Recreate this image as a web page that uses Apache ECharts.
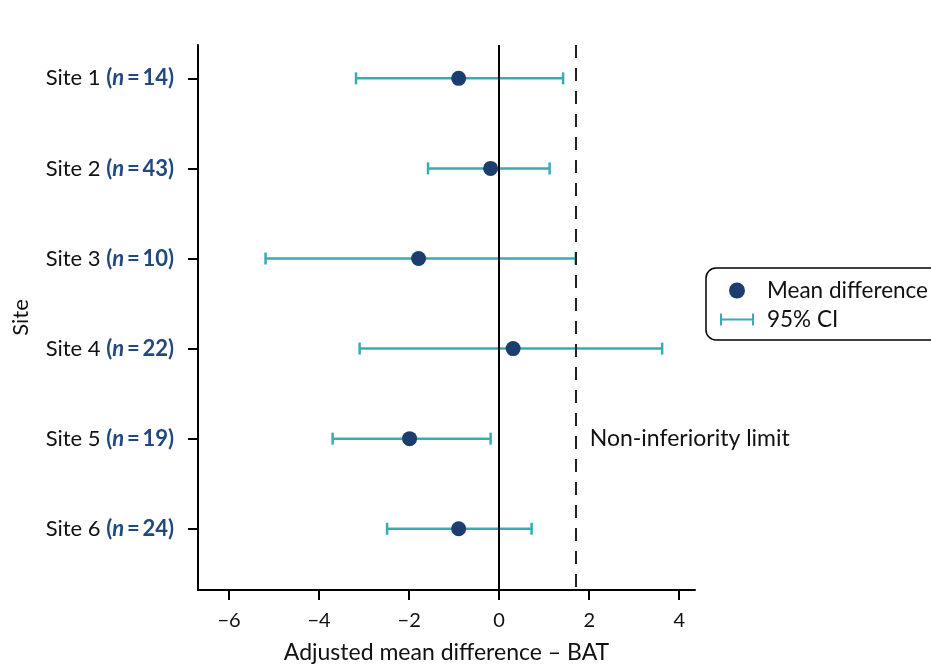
<!DOCTYPE html>
<html><head><meta charset="utf-8">
<script src="https://cdn.jsdelivr.net/npm/echarts@6/dist/echarts.min.js"></script>
<style>html,body{margin:0;padding:0;background:#fff}#c{width:931px;height:664px}</style>
</head><body><div id="c"></div>
<script>
const sites = ['Site 1','Site 2','Site 3','Site 4','Site 5','Site 6'];
const nValues = [14, 43, 10, 22, 19, 24];
const means = [-0.9, -0.19, -1.79, 0.31, -1.99, -0.9];
const lower = [-3.18, -1.58, -5.19, -3.1, -3.7, -2.49];
const upper = [1.42, 1.12, 1.7, 3.62, -0.19, 0.72];
const xTicks = [-6, -4, -2, 0, 2, 4];
const nonInferiorityLimit = 1.7;
const limitLabelRow = 5;

const siteRows = sites.map((s, i) => i + 1);
const NAVY = '#1b3d70';
const TEAL = '#36adb4';
const LBLUE = '#21487f';
const FONT = 'Lato';
const TXT = '#111';

const chart = echarts.init(document.getElementById('c'));
chart.setOption({
  animation: false,
  textStyle: { fontFamily: FONT },
  grid: { left: 198, right: 236, top: 45, bottom: 74, outerBoundsMode: 'none', containLabel: false },
  legend: {
    orient: 'vertical',
    left: 706, top: 268,
    itemWidth: 34, itemHeight: 16, itemGap: 6,
    padding: [11, 12, 9, 14],
    borderColor: '#000', borderWidth: 1.5, borderRadius: 10,
    textStyle: { fontFamily: FONT, fontSize: 22.5, color: TXT, padding: [0, 0, 0, 8] },
    data: [
      { name: 'Mean difference', icon: 'circle', itemStyle: { color: NAVY } },
      { name: '95% CI', icon: 'path://M0,0 L2,0 L2,5 L32,5 L32,0 L34,0 L34,12 L32,12 L32,7 L2,7 L2,12 L0,12 Z', itemStyle: { color: TEAL, borderWidth: 0 } }
    ]
  },
  xAxis: {
    type: 'value', min: -6.69, max: 4.35,
    name: 'Adjusted mean difference \u2013 BAT', nameLocation: 'middle', nameGap: 51,
    nameTextStyle: { fontFamily: FONT, fontSize: 23, color: TXT },
    axisLine: { show: true, onZero: false, lineStyle: { color: '#000', width: 2 } },
    axisTick: { show: true, length: 10, customValues: xTicks, lineStyle: { color: '#000', width: 2 } },
    axisLabel: { customValues: xTicks, margin: 21, fontFamily: FONT, fontSize: 20, color: TXT,
      formatter: v => String(v).replace('-', '\u2212') },
    splitLine: { show: false }
  },
  yAxis: {
    type: 'value', inverse: true, min: 0.63, max: 6.68,
    name: 'Site', nameLocation: 'middle', nameGap: 166,
    nameTextStyle: { fontFamily: FONT, fontSize: 22, color: TXT },
    axisLine: { show: true, onZero: false, lineStyle: { color: '#000', width: 2 } },
    axisTick: { show: true, length: 10, customValues: siteRows, lineStyle: { color: '#000', width: 2 } },
    axisLabel: {
      customValues: siteRows, margin: 24,
      formatter: v => {
        const i = Math.round(v) - 1;
        return '{a|' + sites[i] + ' }{b|(}{c|n}{b|\u2009=\u2009' + nValues[i] + ')}';
      },
      rich: {
        a: { fontFamily: FONT, fontSize: 22, color: TXT },
        b: { fontFamily: FONT, fontSize: 22, color: LBLUE, fontWeight: 'bold' },
        c: { fontFamily: FONT, fontSize: 22, color: LBLUE, fontWeight: 'bold', fontStyle: 'italic' }
      }
    },
    splitLine: { show: false }
  },
  series: [
    {
      name: '95% CI', type: 'custom', z: 2,
      data: siteRows.map((r, i) => [r, lower[i], upper[i]]),
      encode: { x: [1, 2], y: 0 },
      itemStyle: { color: TEAL },
      renderItem: (params, api) => {
        const y = api.value(0);
        const lo = api.coord([api.value(1), y]);
        const hi = api.coord([api.value(2), y]);
        const h = 6;
        const style = { stroke: TEAL, lineWidth: 2.5, fill: null };
        return { type: 'group', children: [
          { type: 'line', shape: { x1: lo[0], y1: lo[1], x2: hi[0], y2: hi[1] }, style },
          { type: 'line', shape: { x1: lo[0], y1: lo[1] - h, x2: lo[0], y2: lo[1] + h }, style },
          { type: 'line', shape: { x1: hi[0], y1: hi[1] - h, x2: hi[0], y2: hi[1] + h }, style }
        ] };
      }
    },
    {
      name: 'ref', type: 'scatter', z: 3, data: [[nonInferiorityLimit, limitLabelRow]],
      symbolSize: 0, silent: true, itemStyle: { opacity: 1 },
      label: { show: true, position: 'right', distance: 14, formatter: 'Non-inferiority limit',
        fontFamily: FONT, fontSize: 23, color: TXT, opacity: 1 },
      markLine: {
        silent: true, symbol: 'none', label: { show: false },
        data: [
          { xAxis: 0, lineStyle: { color: '#000', width: 2, type: 'solid' } },
          { xAxis: nonInferiorityLimit, lineStyle: { color: '#222', width: 2, type: [13, 10] } }
        ]
      }
    },
    {
      name: 'Mean difference', type: 'scatter', z: 4,
      data: means.map((m, i) => [m, siteRows[i]]),
      symbol: 'circle', symbolSize: 15,
      itemStyle: { color: NAVY, opacity: 1 }
    }
  ]
});
</script></body></html>
